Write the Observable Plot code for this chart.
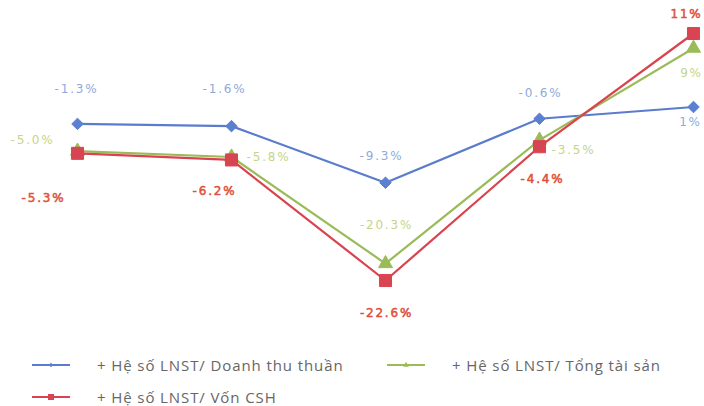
<!DOCTYPE html>
<html><head><meta charset="utf-8">
<script src="https://cdn.jsdelivr.net/npm/d3@7"></script>
<script src="https://cdn.jsdelivr.net/npm/@observablehq/plot@0.6"></script>
<style>
body{margin:0;background:#fff;width:704px;height:406px;overflow:hidden;font-family:"Open Sans",sans-serif}
#chart svg{display:block}
#legend{position:relative;height:61px;width:704px}
.item{position:absolute;height:16px;line-height:16px;display:flex;align-items:center;font-size:15px;color:#666;white-space:nowrap;letter-spacing:0.9px}
.item svg{margin-right:27px}
</style></head><body>
<div id="chart"></div>
<div id="legend"></div>
<script>
// ---- data ----
const periods = ["K1", "K2", "K3", "K4", "K5"];
const seriesNames = ["+ Hệ số LNST/ Doanh thu thuần", "+ Hệ số LNST/ Tổng tài sản", "+ Hệ số LNST/ Vốn CSH"];
const doanhThu = [-1.3, -1.6, -9.3, -0.6, 1];
const tongTaiSan = [-5.0, -5.8, -20.3, -3.5, 9];
const vonCSH = [-5.3, -6.2, -22.6, -4.4, 11];
const labelsDoanhThu = ["-1.3%", "-1.6%", "-9.3%", "-0.6%", "1%"];
const labelsTongTaiSan = ["-5.0%", "-5.8%", "-20.3%", "-3.5%", "9%"];
const labelsVonCSH = ["-5.3%", "-6.2%", "-22.6%", "-4.4%", "11%"];

// ---- styles (separate from data) ----
const styles = [
  {line: "#5b7ccd", dot: "#5b80d0", text: "#8eaadb", symbol: "diamond2", r: 5.2, lw: 0},
  {line: "#9bbb59", dot: "#9bbb59", text: "#c4d58a", symbol: "triangle", r: 5.2, lw: 0},
  {line: "#d9434e", dot: "#d94452", text: "#e0503c", symbol: "square", r: 6.8, lw: 0.5}
];
const labelOffsets = [
  [[-1,-35],[-7,-37],[-4,-27],[1,-26],[-3,15]],
  [[-45,-11],[37,0],[1,-38],[34,10],[-2,25]],
  [[-34,45],[-17,31],[1,33],[3,32],[-7,-19]]
];

const valueSets = [doanhThu, tongTaiSan, vonCSH];
const labelSets = [labelsDoanhThu, labelsTongTaiSan, labelsVonCSH];
const rows = valueSets.map((vals, s) => vals.map((v, i) => ({
  period: periods[i], value: v, label: labelSets[s][i], series: seriesNames[s], s, i
})));

const marks = [];
rows.forEach((data, s) => {
  const st = styles[s];
  marks.push(Plot.line(data, {x: "period", y: "value", stroke: st.line, strokeWidth: 2.2}));
  marks.push(Plot.dot(data, {x: "period", y: "value", symbol: () => st.symbol, r: st.r, fill: st.dot, stroke: st.dot, strokeWidth: 1}));
});
rows.forEach((data, s) => {
  const st = styles[s];
  data.forEach((d, i) => {
    marks.push(Plot.text([d], {x: "period", y: "value", text: "label", fill: st.text,
      stroke: st.lw ? st.text : null, strokeWidth: st.lw,
      dx: labelOffsets[s][i][0], dy: labelOffsets[s][i][1],
      fontSize: 12, fontFamily: "DejaVu Sans"}));
  });
});

const chart = Plot.plot({
  width: 704, height: 345,
  marginLeft: 77, marginRight: 11, marginTop: 33, marginBottom: 65,
  x: {type: "point", domain: periods, padding: 0, axis: null},
  y: {domain: [-22.6, 11], axis: null},
  symbol: {type: "identity"},
  style: {background: "#fff", overflow: "visible"},
  marks
});
d3.select(chart).selectAll("text").style("letter-spacing", "1.8px");
document.getElementById("chart").appendChild(chart);

// ---- legend ----
const legendPos = [[32, 12], [387, 12], [32, 44]];
const legendSym = ["diamond", "triangle", "square"];
const leg = d3.select("#legend");
seriesNames.forEach((name, s) => {
  const st = styles[s];
  const item = leg.append("div").attr("class", "item")
    .style("left", legendPos[s][0] + "px").style("top", legendPos[s][1] + "px");
  const svg = item.append("svg").attr("width", 38).attr("height", 16);
  svg.append("line").attr("x1", 0).attr("x2", 38).attr("y1", 8).attr("y2", 8)
    .attr("stroke", st.line).attr("stroke-width", 2);
  const sym = {diamond: d3.symbolDiamond2, triangle: d3.symbolTriangle, square: d3.symbolSquare}[legendSym[s]];
  svg.append("path").attr("d", d3.symbol(sym, s === 2 ? 36 : 14)()).attr("transform", "translate(19,8)")
    .attr("fill", st.dot);
  item.append("span").text(name);
});
</script>
</body></html>
